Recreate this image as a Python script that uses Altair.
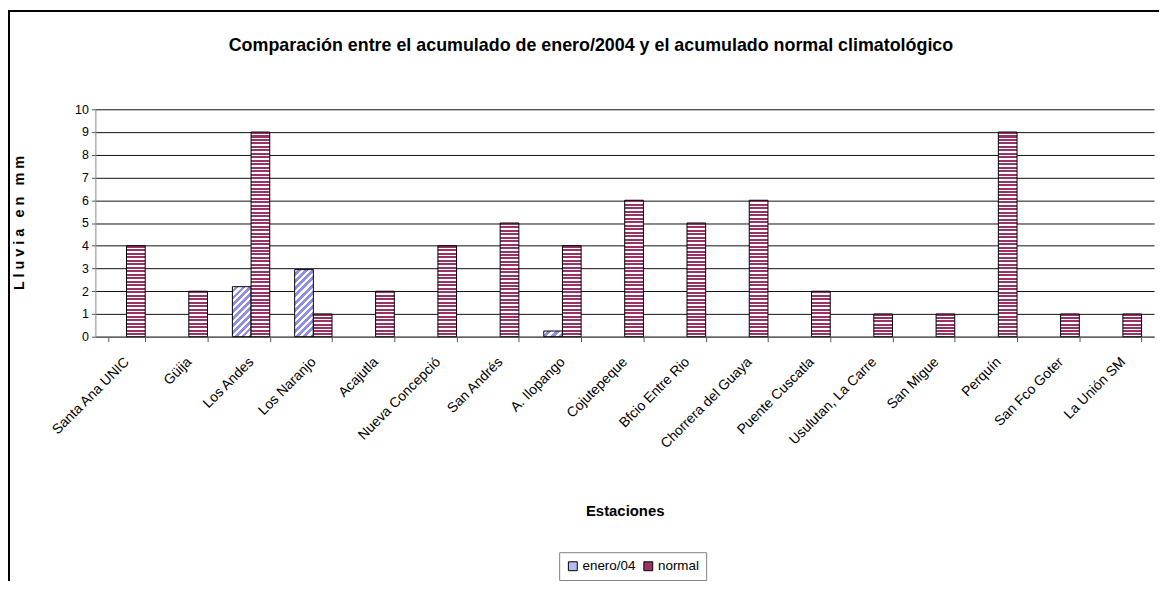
import math
import altair as alt
import pandas as pd

# ---------------- data ----------------
stations = ["Santa Ana UNIC", "Güija", "Los Andes", "Los Naranjo", "Acajutla",
            "Nueva Concepció", "San Andrés", "A. Ilopango", "Cojutepeque",
            "Bfcio Entre Rio", "Chorrera del Guaya", "Puente Cuscatla",
            "Usulutan, La Carre", "San Migue", "Perquín", "San Fco Goter",
            "La Unión SM"]
enero04 = [0, 0, 2.2, 2.95, 0, 0, 0, 0.25, 0, 0, 0, 0, 0, 0, 0, 0, 0]
normal = [4, 2, 9, 1, 2, 4, 5, 4, 6, 5, 6, 2, 1, 1, 9, 1, 1]
series = ["enero/04", "normal"]
y_ticks = list(range(0, 11))

TITLE = "Comparación entre el acumulado de enero/2004 y el acumulado normal climatológico"
Y_TITLE = "L l u v i a \u2002e n \u2002m m"

# ---------------- layout ----------------
W, H = 1066, 229
PAD_L, PAD_T, PAD_R = 88, 100, 5
TOTAL_H = 573
P_INNER, P_OUTER = 0.4, 0.2
step = W / (len(stations) - P_INNER + 2 * P_OUTER)
bar_w = step * (1 - P_INNER) / 2
unit = H / 10.0

SANS = "Liberation Sans, Arial, sans-serif"

# --------- pattern fills (built as gradients) ---------
def hstripes(h_px, period=3.5, frac=0.58, c1="#993366", c2="#ffffff"):
    n = max(1, int(round(h_px / period)))
    stops = []
    for i in range(n):
        a, b, c = i / n, (i + frac) / n, (i + 1) / n
        stops += [{"offset": a, "color": c1}, {"offset": b, "color": c1},
                  {"offset": b, "color": c2}, {"offset": c, "color": c2}]
    return {"gradient": "linear", "x1": 0, "y1": 0, "x2": 0, "y2": 1, "stops": stops}


def dstripes(w, h, spacing=5.0, frac=0.45, c1="#8f8fe8", c2="#ffffff"):
    s = (w + h) / (w * w + h * h)
    n = max(1, int(round((w + h) / math.sqrt(2) / spacing)))
    stops = []
    for i in range(n):
        a, b, c = i / n, (i + frac) / n, (i + 1) / n
        stops += [{"offset": a, "color": c2}, {"offset": b, "color": c2},
                  {"offset": b, "color": c1}, {"offset": c, "color": c1}]
    return {"gradient": "linear", "x1": 0, "y1": 0, "x2": w * s, "y2": h * s, "stops": stops}


rows = []
for st, e, n in zip(stations, enero04, normal):
    if e > 0:
        rows.append({"estacion": st, "serie": series[0], "valor": e})
    if n > 0:
        rows.append({"estacion": st, "serie": series[1], "valor": n})
for i, r in enumerate(rows):
    r["gid"] = i
df = pd.DataFrame(rows)

conds = []
for r in rows:
    hp = r["valor"] * unit
    g = dstripes(bar_w, hp) if r["serie"] == series[0] else hstripes(hp)
    conds.append({"test": f"datum.gid == {r['gid']}", "value": g})

bars = alt.Chart(df).mark_bar(stroke="black", strokeWidth=1).encode(
    x=alt.X("estacion:N", sort=stations,
            scale=alt.Scale(paddingInner=P_INNER, paddingOuter=P_OUTER),
            axis=alt.Axis(title="Estaciones", labelAngle=-45, labelAlign="right",
                          labelBaseline="middle", labelPadding=18,
                          labelFont=SANS, labelFontSize=14, labelColor="black",
                          tickBand="extent", tickSize=5, tickColor="#555",
                          domainColor="#666", domainWidth=1.5,
                          titleFont=SANS, titleFontSize=15, titleFontWeight="bold",
                          titleColor="black", titleBaseline="middle", titleY=175)),
    xOffset=alt.XOffset("serie:N", sort=series, scale=alt.Scale(domain=series)),
    y=alt.Y("valor:Q",
            scale=alt.Scale(domain=[0, 10], nice=False),
            axis=alt.Axis(title=Y_TITLE, values=y_ticks,
                          grid=True, gridColor="#111", gridWidth=1,
                          tickSize=4, tickColor="#555", domainColor="#888",
                          labelFont=SANS, labelFontSize=12.5, labelColor="black",
                          labelPadding=3,
                          titleFont=SANS, titleFontSize=14.5, titleFontWeight="bold",
                          titleColor="black", titleAngle=-90, titleBaseline="middle",
                          titleX=-76, titleY=114)),
    color=alt.Color("serie:N", sort=series,
                    scale=alt.Scale(domain=series, range=["#b8b8f2", "#993366"]),
                    legend=alt.Legend(title=None, orient="none", direction="horizontal",
                                      legendX=467, legendY=446, padding=7,
                                      strokeColor="#808080", fillColor="white",
                                      symbolType="square", symbolSize=80,
                                      symbolStrokeColor="black", symbolStrokeWidth=1,
                                      labelFont=SANS, labelFontSize=13.5,
                                      labelColor="black", labelOffset=3,
                                      columnPadding=6),
                    condition=conds),
)

frame_df = pd.DataFrame({"k": [0]})
frame = alt.Chart(frame_df).mark_rect(filled=False, stroke="black", strokeWidth=2).encode(
    x=alt.value(-PAD_L + 1), x2=alt.value(W + 60),
    y=alt.value(-PAD_T + 1), y2=alt.value(TOTAL_H + 60),
)

chart = alt.layer(frame, bars).properties(
    width=W, height=H,
    autosize=alt.AutoSizeParams(type="none"),
    padding={"left": PAD_L, "top": PAD_T, "right": PAD_R, "bottom": TOTAL_H - PAD_T - H},
    title=alt.TitleParams(TITLE, font=SANS, fontSize=18, fontWeight="bold",
                          color="black", anchor="middle", frame="group",
                          dx=-34, offset=-45),
    background="white",
).configure_view(strokeWidth=0)

chart.save("out.html", embed_options={"renderer": "svg", "actions": False})
